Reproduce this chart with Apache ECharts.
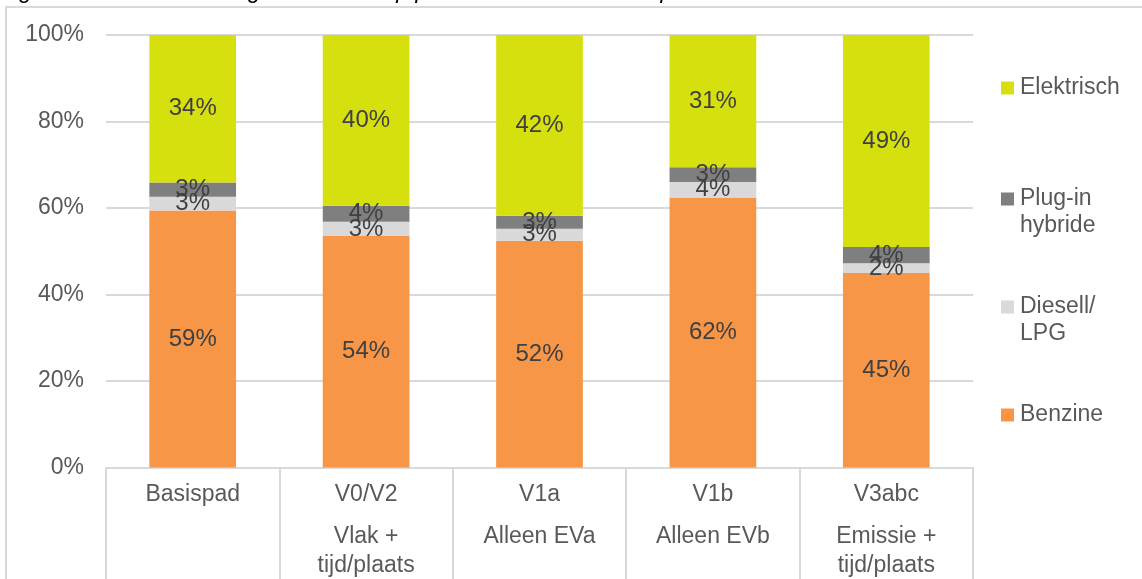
<!DOCTYPE html>
<html>
<head>
<meta charset="utf-8">
<script src="https://cdn.jsdelivr.net/npm/echarts@6/dist/echarts.min.js"></script>
<style>
  html, body { margin: 0; padding: 0; background: #fff; }
  #chart { width: 1142px; height: 579px; }
</style>
</head>
<body>
<div id="chart"></div>
<script>
// categories (two-level labels: scenario code + description)
var categories = ['Basispad', 'V0/V2', 'V1a', 'V1b', 'V3abc'];
var subLabels = ['', 'Vlak +\ntijd/plaats', 'Alleen EVa', 'Alleen EVb', 'Emissie +\ntijd/plaats'];

// share per drive type, in %
var benzine = [59.4, 53.5, 52.4, 62.4, 45.0];
var diesel = [3.2, 3.3, 2.8, 3.6, 2.2];
var plugin = [3.3, 3.7, 3.0, 3.4, 3.8];
var elektrisch = [34.1, 39.5, 41.8, 30.6, 49.0];

var yTicks = [0, 20, 40, 60, 80, 100];

var myChart = echarts.init(document.getElementById('chart'));

var txt = '#595959';
var font = 'Liberation Sans, Arial, sans-serif';

function bar(name, data, color) {
  return {
    name: name,
    type: 'bar',
    stack: 'totaal',
    barWidth: '50%',
    data: data,
    itemStyle: { color: color },
    label: {
      show: true,
      position: 'inside',
      color: '#404040',
      fontSize: 24,
      fontFamily: font,
      formatter: function (p) { return Math.round(p.value) + '%'; }
    }
  };
}

// one legend per entry, so the icon lines up with the first text line
// (two-line names get an empty line in front, so the block centres on line one)
function legendItem(name, iconY, twoLines) {
  return {
    data: [name],
    left: 1001,
    top: twoLines ? iconY - 38.5 : iconY - 11.5,
    padding: 0,
    itemWidth: 13,
    itemHeight: 13,
    itemGap: 0,
    icon: 'rect',
    selectedMode: false,
    formatter: function (n) { return twoLines ? ' \n' + n : n; },
    textStyle: {
      color: txt,
      fontSize: 23,
      fontFamily: font,
      lineHeight: 27,
      padding: [0, 0, 0, 1]
    }
  };
}

myChart.setOption({
  animation: false,
  backgroundColor: '#fff',
  graphic: [
    {
      type: 'rect',
      z: -1,
      shape: { x: 6, y: 7, width: 1300, height: 800 },
      style: { fill: 'none', stroke: '#d9d9d9', lineWidth: 2 }
    }
  ],
  title: {
    text: 'Figuur 4.4  Samenstelling nieuwverkoop personenauto\u2019s in 2030 per variant',
    left: 0,
    top: -21.5,
    padding: 0,
    textStyle: { fontSize: 23, lineHeight: 26, fontStyle: 'italic', fontWeight: 'normal', color: '#000', fontFamily: font }
  },
  legend: [
    legendItem('Elektrisch', 86, false),
    legendItem('Plug-in\nhybride', 197, true),
    legendItem('Diesell/\nLPG', 305, true),
    legendItem('Benzine', 413, false)
  ],
  grid: { left: 106, right: 169, top: 35, bottom: 111.5 },
  xAxis: {
    type: 'category',
    data: categories,
    axisLine: { lineStyle: { color: '#d9d9d9', width: 2 } },
    axisTick: { show: true, length: 130, interval: 0, lineStyle: { color: '#d9d9d9', width: 2 } },
    axisLabel: {
      interval: 0,
      margin: 0,
      color: txt,
      fontFamily: font,
      formatter: function (v, i) {
        var s = '{a|' + v + '}';
        if (subLabels[i]) {
          s += '\n' + subLabels[i].split('\n').map(function (t) { return '{b|' + t + '}'; }).join('\n');
        }
        return s;
      },
      rich: {
        a: { fontSize: 23, lineHeight: 55, color: txt, fontFamily: font },
        b: { fontSize: 23, lineHeight: 29, color: txt, fontFamily: font }
      }
    }
  },
  yAxis: {
    type: 'value',
    min: yTicks[0],
    max: yTicks[yTicks.length - 1],
    interval: yTicks[1] - yTicks[0],
    axisLine: { show: false },
    axisTick: { show: false },
    splitLine: { lineStyle: { color: '#d9d9d9', width: 2 } },
    axisLabel: { margin: 22, color: txt, fontSize: 23, fontFamily: font, formatter: '{value}%' }
  },
  series: [
    bar('Benzine', benzine, '#f79646'),
    bar('Diesell/\nLPG', diesel, '#d9d9d9'),
    bar('Plug-in\nhybride', plugin, '#7f7f7f'),
    bar('Elektrisch', elektrisch, '#d7e00f')
  ]
});
</script>
</body>
</html>
